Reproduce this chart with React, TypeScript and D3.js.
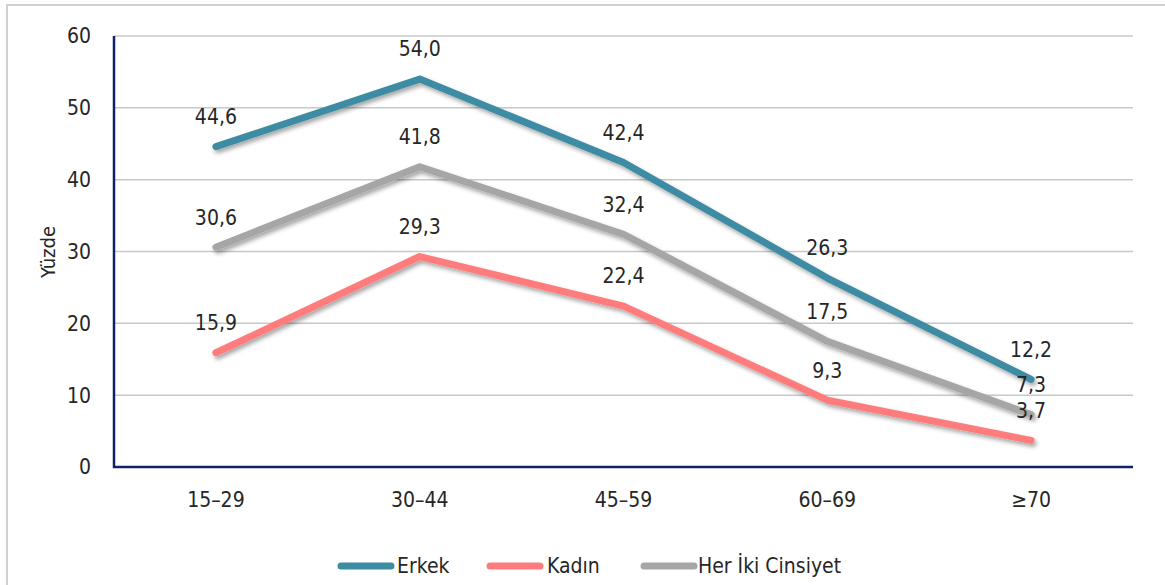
import React, { useEffect, useRef } from 'react';
import * as d3 from 'd3';

const categories = ['15–29', '30–44', '45–59', '60–69', '≥70'];
const erkek = [44.6, 54.0, 42.4, 26.3, 12.2];
const kadin = [15.9, 29.3, 22.4, 9.3, 3.7];
const herIki = [30.6, 41.8, 32.4, 17.5, 7.3];
const yTicks = [0, 10, 20, 30, 40, 50, 60];

const seriesList = [
    { name: 'Erkek', values: erkek, color: '#3d8ca3' },
    { name: 'Kadın', values: kadin, color: '#ff7c7c' },
    { name: 'Her İki Cinsiyet', values: herIki, color: '#a6a6a6' },
];

const FONT = '"Liberation Sans Narrow", "Arial Narrow", "DejaVu Sans Condensed", sans-serif';

const App = () => {
    const svgRef = useRef<SVGSVGElement>(null);

    useEffect(() => {
        const width = 1165,
              height = 585,
              left = 114,
              right = 1133,
              top = 36,
              bottom = 467;

        const svg = d3.select(svgRef.current);
        svg.selectAll('*').remove();
        svg.attr('width', width).attr('height', height);

        // shadow under the lines
        svg.append('defs').append('filter')
            .attr('id', 'shadow')
            .attr('x', '-10%').attr('y', '-10%')
            .attr('width', '120%').attr('height', '140%')
            .append('feDropShadow')
            .attr('dx', 2).attr('dy', 3)
            .attr('stdDeviation', 2.2)
            .attr('flood-color', '#000')
            .attr('flood-opacity', 0.35);

        // outer frame
        svg.append('rect')
            .attr('x', 7).attr('y', 5)
            .attr('width', 1170).attr('height', 600)
            .attr('fill', '#fff')
            .attr('stroke', '#d0d0d0')
            .attr('stroke-width', 2);

        const x = d3.scalePoint<string>()
            .domain(categories)
            .range([left, right])
            .padding(0.5);

        const y = d3.scaleLinear()
            .domain([0, 60])
            .range([bottom, top]);

        // grid
        svg.append('g')
            .selectAll('line')
            .data(yTicks.filter(d => d > 0))
            .enter()
            .append('line')
            .attr('x1', left).attr('x2', right)
            .attr('y1', d => y(d)).attr('y2', d => y(d))
            .attr('stroke', '#c8c8c8')
            .attr('stroke-width', 1.5);

        // y tick labels
        svg.append('g')
            .selectAll('text')
            .data(yTicks)
            .enter()
            .append('text')
            .attr('x', 91)
            .attr('y', d => y(d))
            .attr('dy', '0.35em')
            .attr('text-anchor', 'end')
            .attr('fill', '#262626')
            .style('font-family', FONT)
            .style('font-size', '21px')
            .text(d => d);

        // x tick labels
        svg.append('g')
            .selectAll('text')
            .data(categories)
            .enter()
            .append('text')
            .attr('x', d => x(d))
            .attr('y', 500)
            .attr('dy', '0.35em')
            .attr('text-anchor', 'middle')
            .attr('fill', '#262626')
            .style('font-family', FONT)
            .style('font-size', '21px')
            .text(d => d);

        // axis title
        svg.append('text')
            .attr('transform', 'translate(48,252) rotate(-90)')
            .attr('text-anchor', 'middle')
            .attr('dy', '0.35em')
            .attr('fill', '#262626')
            .style('font-family', FONT)
            .style('font-size', '20px')
            .text('Yüzde');

        // axes
        svg.append('path')
            .attr('d', `M${left},${top}V${bottom}H${right}`)
            .attr('fill', 'none')
            .attr('stroke', '#0d2466')
            .attr('stroke-width', 2.5);

        const line = d3.line<number>()
            .x((d, i) => x(categories[i]) as number)
            .y(d => y(d));

        const lines = svg.append('g');
        seriesList.forEach(s => {
            lines.append('path')
                .attr('d', line(s.values))
                .attr('fill', 'none')
                .attr('stroke', s.color)
                .attr('stroke-width', 7)
                .attr('stroke-linecap', 'round')
                .attr('stroke-linejoin', 'round')
                .attr('filter', 'url(#shadow)');
        });

        // data labels
        const labels = svg.append('g');
        seriesList.forEach(s => {
            s.values.forEach((v, i) => {
                labels.append('text')
                    .attr('x', x(categories[i]) as number)
                    .attr('y', y(v) - 30)
                    .attr('dy', '0.35em')
                    .attr('text-anchor', 'middle')
                    .attr('fill', '#262626')
                    .style('font-family', FONT)
                    .style('font-size', '21px')
                    .text(v.toFixed(1).replace('.', ','));
            });
        });

        // legend
        const legendItems = [
            { x: 338, textX: 397 },
            { x: 487, textX: 547 },
            { x: 641, textX: 698 },
        ];
        const legend = svg.append('g');
        seriesList.forEach((s, i) => {
            const item = legendItems[i];
            legend.append('line')
                .attr('x1', item.x + 3).attr('x2', item.x + 53)
                .attr('y1', 566).attr('y2', 566)
                .attr('stroke', s.color)
                .attr('stroke-width', 7)
                .attr('stroke-linecap', 'round');
            legend.append('text')
                .attr('x', item.textX)
                .attr('y', 566)
                .attr('dy', '0.35em')
                .attr('fill', '#262626')
                .style('font-family', FONT)
                .style('font-size', '21px')
                .text(s.name);
        });
    }, []);

    return (
        <svg ref={svgRef} style={{ position: 'absolute', left: 0, top: 0 }}></svg>
    );
};

export default App;
